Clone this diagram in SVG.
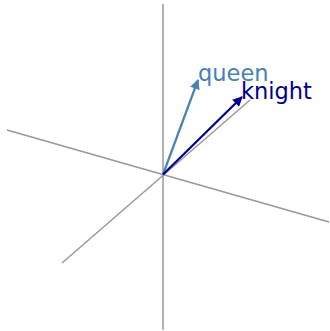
<svg xmlns="http://www.w3.org/2000/svg" width="330" height="331" viewBox="0 0 330 331">
<style>
.axis{stroke:#999999;stroke-width:1.5;fill:none}
.lbl{font-family:"DejaVu Sans",sans-serif;font-size:22.5px}
</style>
<defs>
<marker id="hq" viewBox="0 0 10 10" refX="9" refY="5" markerWidth="5" markerHeight="4.5" orient="auto" markerUnits="strokeWidth"><path d="M0,0 L10,5 L0,10 z" fill="#4682b4"/></marker>
<marker id="hk" viewBox="0 0 10 10" refX="9" refY="5" markerWidth="5" markerHeight="4.5" orient="auto" markerUnits="strokeWidth"><path d="M0,0 L10,5 L0,10 z" fill="#00008b"/></marker>
</defs>
<rect width="330" height="331" fill="#ffffff"/>
<g id="axes">
<line class="axis" x1="163" y1="4" x2="163" y2="330"/>
<line class="axis" x1="7" y1="130" x2="329" y2="222"/>
<line class="axis" x1="62" y1="263" x2="250" y2="100"/>
</g>
<g id="connectors">
<line x1="163" y1="174.5" x2="198" y2="80" stroke="#4682b4" stroke-width="2.2" marker-end="url(#hq)"/>
<line x1="163" y1="174.5" x2="242" y2="97" stroke="#00008b" stroke-width="2.2" marker-end="url(#hk)"/>
</g>
<g id="queen"><text class="lbl" x="198" y="81" fill="#4682b4">queen</text></g>
<g id="knight"><text class="lbl" x="241" y="99" fill="#00008b">knight</text></g>
</svg>
